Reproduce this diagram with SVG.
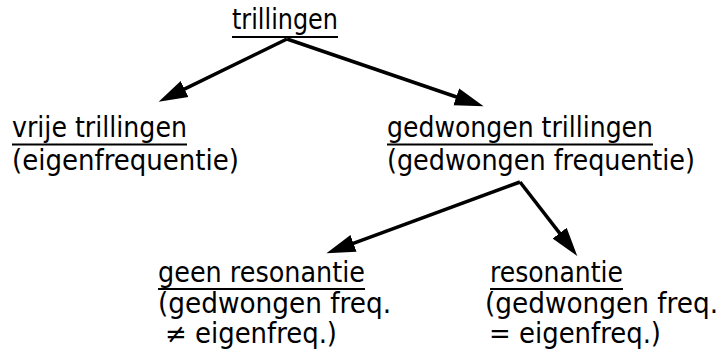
<svg xmlns="http://www.w3.org/2000/svg" width="725" height="364" viewBox="0 0 725 364">
<defs>
<style>
text{font-family:"DejaVu Sans Condensed","DejaVu Sans","Liberation Sans",sans-serif;font-size:28.5px;fill:#000}
text.sm{font-size:27.5px}
.ul{stroke:#000;stroke-width:2.2}
.conn{stroke:#000;stroke-width:3.5;fill:none;marker-end:url(#ah)}
</style>
<marker id="ah" markerUnits="userSpaceOnUse" markerWidth="30" markerHeight="20" viewBox="0 -9 27 18" refX="10" refY="0" orient="auto">
<path d="M0,-8 L26,0 L0,8 z" fill="#000"/>
</marker>
</defs>
<rect width="725" height="364" fill="#fff"/>
<g id="connectors">
<line class="conn" x1="287" y1="39" x2="174.6" y2="93.9"/>
<line class="conn" x1="287" y1="39" x2="466.8" y2="100.5"/>
<line class="conn" x1="520" y1="182" x2="343.1" y2="247.2"/>
<line class="conn" x1="520" y1="182" x2="566.4" y2="241.9"/>
</g>
<g id="trillingen">
<text x="232" y="29" textLength="106" lengthAdjust="spacingAndGlyphs">trillingen</text>
<line class="ul" x1="232" y1="37" x2="338" y2="37"/>
</g>
<g id="vrije">
<text x="12" y="137" textLength="175" lengthAdjust="spacingAndGlyphs">vrije trillingen</text>
<line class="ul" x1="12" y1="144.5" x2="187" y2="144.5"/>
<text x="12" y="170" textLength="227" lengthAdjust="spacingAndGlyphs">(eigenfrequentie)</text>
</g>
<g id="gedwongen">
<text x="387" y="137" textLength="266" lengthAdjust="spacingAndGlyphs">gedwongen trillingen</text>
<line class="ul" x1="387" y1="144.5" x2="653" y2="144.5"/>
<text x="387" y="170" textLength="308" lengthAdjust="spacingAndGlyphs">(gedwongen frequentie)</text>
</g>
<g id="geen-resonantie">
<text class="sm" x="158" y="282" textLength="207" lengthAdjust="spacingAndGlyphs">geen resonantie</text>
<line class="ul" x1="158" y1="289" x2="365" y2="289"/>
<text class="sm" x="158" y="313" textLength="233" lengthAdjust="spacingAndGlyphs">(gedwongen freq.</text>
<text class="sm" x="165" y="343" textLength="172" lengthAdjust="spacingAndGlyphs">≠ eigenfreq.)</text>
</g>
<g id="resonantie">
<text class="sm" x="490" y="282" textLength="133" lengthAdjust="spacingAndGlyphs">resonantie</text>
<line class="ul" x1="490" y1="289" x2="623" y2="289"/>
<text class="sm" x="485" y="313" textLength="233" lengthAdjust="spacingAndGlyphs">(gedwongen freq.</text>
<text class="sm" x="489" y="343" textLength="172" lengthAdjust="spacingAndGlyphs">= eigenfreq.)</text>
</g>
</svg>
